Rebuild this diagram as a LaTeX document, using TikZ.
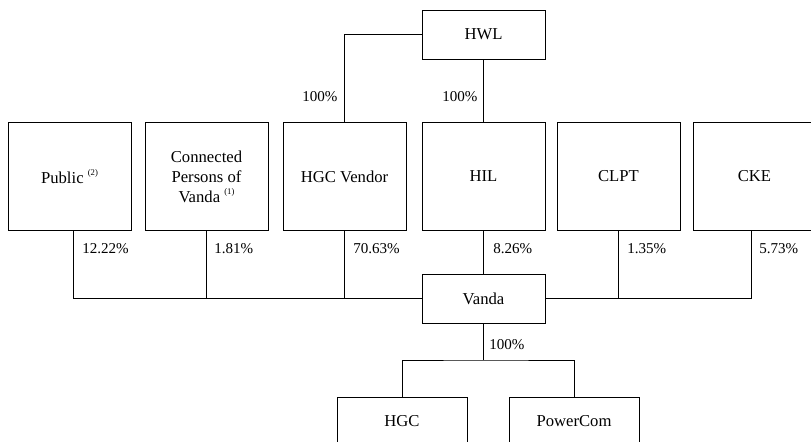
\documentclass[tikz,border=0pt]{standalone}
\usepackage{fontspec}
\setmainfont{Liberation Serif}
\newcommand{\supnote}[1]{\raisebox{0.45em}{\fontsize{6.5}{7}\selectfont(#1)}}
\begin{document}
\begin{tikzpicture}[x=0.75pt,y=-0.75pt,
  box/.style={draw,line width=0.65pt,inner sep=0pt,align=center,
    font=\fontsize{12.5}{15}\selectfont},
  tall/.style={box,minimum width=92.25pt,minimum height=81.4pt},
  short/.style={box,minimum width=92.25pt,minimum height=36.75pt},
  pct/.style={anchor=west,inner sep=0pt,font=\fontsize{11.3}{13}\selectfont},
  link/.style={line width=0.65pt}]
\useasboundingbox (0,0) rectangle (811,442);
% boxes
\node[short] (HWL) at (483.5,34.5) {HWL};
\node[tall] (Public) at (69.5,176.5) {Public \supnote{2}};
\node[tall] (CPV) at (206.5,176.5) {Connected\\Persons of\\Vanda \supnote{1}};
\node[tall] (HGCV) at (344.5,176.5) {HGC Vendor};
\node[tall] (HIL) at (483.5,176.5) {HIL};
\node[tall] (CLPT) at (618.5,176.5) {CLPT};
\node[tall] (CKE) at (754.5,176.5) {CKE};
\node[short] (Vanda) at (483.5,298.5) {Vanda};
\node[box,minimum width=97.5pt,minimum height=36.75pt] (HGC) at (402,421.5) {HGC};
\node[box,minimum width=97.5pt,minimum height=36.75pt] (PowerCom) at (574,421.5) {PowerCom};
\coordinate (split) at (483.5,360);
% connectors
\draw[link] (HWL.west) -| (HGCV.north);
\draw[link] (HWL.south) -- (HIL.north);
\draw[link] ([xshift=2.6pt]Public.south) |- (Vanda.west);
\draw[link] (CPV.south) -- (CPV.south |- Vanda.west);
\draw[link] (HGCV.south) -- (HGCV.south |- Vanda.west);
\draw[link] (HIL.south) -- (Vanda.north);
\draw[link] (CLPT.south) -- (CLPT.south |- Vanda.east);
\draw[link] ([xshift=-2.6pt]CKE.south) |- (Vanda.east);
\draw[link] (Vanda.south) -- (split);
\draw[link] (HGC.north) |- (split) -| (PowerCom.north);
% percentages
\node[pct] (p1) at (302,97) {100\%};
\node[pct] (p2) at (442,97) {100\%};
\node[pct] (p3) at (82,249) {12.22\%};
\node[pct] (p4) at (214,249) {1.81\%};
\node[pct] (p5) at (353,249) {70.63\%};
\node[pct] (p6) at (493,249) {8.26\%};
\node[pct] (p7) at (627,249) {1.35\%};
\node[pct] (p8) at (759,249) {5.73\%};
\node[pct] (p9) at (489,345) {100\%};
\end{tikzpicture}
\end{document}
